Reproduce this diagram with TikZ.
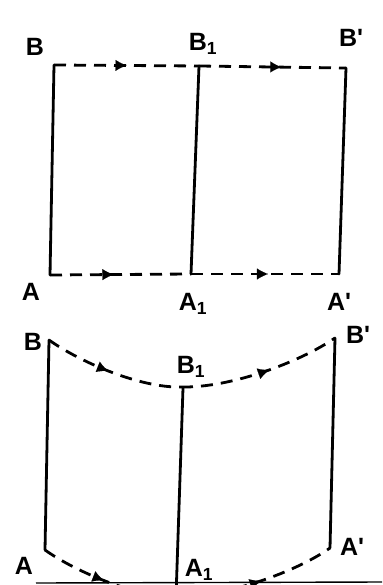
\documentclass[tikz,border=0pt]{standalone}
\usepackage{fontspec}
\setmainfont{Liberation Sans}
\usetikzlibrary{arrows.meta,decorations.markings}
\tikzset{
  solidline/.style={line width=2.8pt, line cap=round, line join=miter},
  dashline/.style={line width=2.8pt, dash pattern=on 12pt off 8pt},
  midarrow/.style={postaction={decorate, decoration={markings,
      mark=at position #1 with {\arrow[line width=0.1pt]{Latex[length=11pt,width=11pt]}}}}},
  lbl/.style={font=\fontsize{25}{25}\selectfont\bfseries, inner sep=0pt},
  edgeline/.style={line width=1.4pt}
}
\begin{document}
\begin{tikzpicture}[x=1pt,y=-1pt]
\useasboundingbox (0,0) rectangle (382,585);
\clip (0,0) rectangle (382,585);
\fill[white] (0,0) rectangle (382,585);

% ---------- upper figure ----------
\coordinate (tB)  at (54,65);
\coordinate (tB1) at (199,66);
\coordinate (tBp) at (346,68);
\coordinate (tA)  at (50,275);
\coordinate (tA1) at (191,274);
\coordinate (tAp) at (339,274);

\draw[solidline] (tB) -- (tA);
\draw[solidline] (tB1) -- (tA1);
\draw[solidline] (tBp) -- (tAp);

\draw[dashline, midarrow=0.5] (tB) -- (tB1);
\draw[dashline, midarrow=0.56] (tB1) -- (tBp);
\draw[dashline, midarrow=0.45] (tA) -- (tA1);
\draw[dashline, midarrow=0.52] (tA1) -- (tAp);

\node[lbl] (ltB)  at (35,47)  {B};
\node[lbl] (ltB1) at (203,44) {B\textsubscript{1}};
\node[lbl] (ltBp) at (351,38) {B\textquotesingle};
\node[lbl] (ltA)  at (31,292) {A};
\node[lbl] (ltA1) at (193,304) {A\textsubscript{1}};
\node[lbl] (ltAp) at (339,302) {A\textquotesingle};

% ---------- lower figure ----------
\coordinate (bB)  at (49,340);
\coordinate (bB1) at (181,387);
\coordinate (bBp) at (335,338);
\coordinate (bA)  at (45,550);
\coordinate (bA1) at (176,597);
\coordinate (bAp) at (330,548);

\draw[solidline] (bB) -- (bA);
\draw[solidline] (183,388) -- (bA1);
\draw[solidline] (bBp) -- (bAp);

\draw[dashline, midarrow=0.47] (bB) .. controls (80,362) and (140,388) .. (bB1);
\draw[dashline, midarrow=0.55] (bB1) .. controls (231,388) and (300,362) .. (bBp);
\draw[dashline, midarrow=0.47] (bA) .. controls (76,572) and (136,597) .. (bA1);
\draw[dashline, midarrow=0.53] (bA1) .. controls (226,597) and (296,572) .. (bAp);

\coordinate (edgeL) at (36,583);
\coordinate (edgeR) at (382,582);
\draw[edgeline] (edgeL) -- (edgeR);

\node[lbl] (lbB)  at (33,342)  {B};
\node[lbl] (lbB1) at (191,367) {B\textsubscript{1}};
\node[lbl] (lbBp) at (358,335) {B\textquotesingle};
\node[lbl] (lbA)  at (24,566)  {A};
\node[lbl] (lbA1) at (199,570) {A\textsubscript{1}};
\node[lbl] (lbAp) at (352,547) {A\textquotesingle};
\end{tikzpicture}
\end{document}
